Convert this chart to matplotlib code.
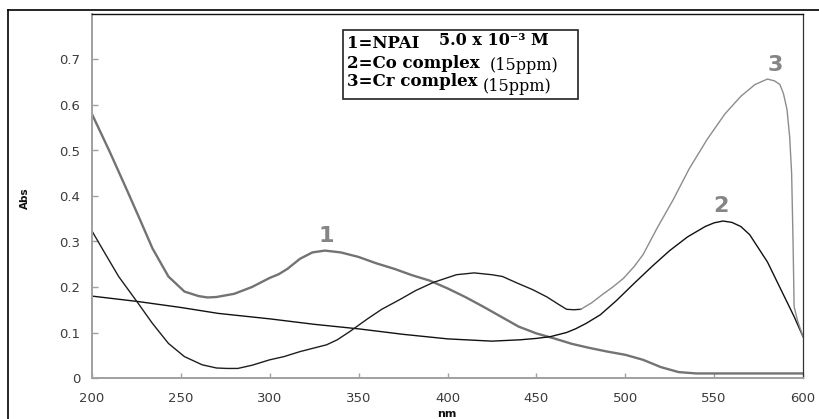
import matplotlib
matplotlib.use("Agg")
import matplotlib.pyplot as plt
from matplotlib.lines import Line2D
from matplotlib.patches import Rectangle

# absorption spectra, wavelength in nm
nm_npai = [200, 210, 220, 227, 234, 243, 252, 260, 265, 270, 280, 290, 300, 305, 310, 317,
           324, 331, 340, 350, 360, 370, 380, 390, 400, 410, 420, 430, 440, 450, 460, 470,
           480, 490, 500, 510, 520, 530, 540, 560, 580, 600]
abs_npai = [0.580, 0.497, 0.410, 0.348, 0.285, 0.223, 0.190, 0.180, 0.177, 0.178, 0.185, 0.200,
            0.220, 0.228, 0.240, 0.262, 0.276, 0.280, 0.276, 0.266, 0.252, 0.240, 0.226, 0.214,
            0.197, 0.178, 0.157, 0.135, 0.113, 0.098, 0.087, 0.075, 0.066, 0.058, 0.051, 0.040,
            0.024, 0.013, 0.010, 0.010, 0.010, 0.010]

nm_co = [200, 226, 250, 271, 300, 325, 350, 375, 400, 425, 441, 450, 458, 467, 472, 478, 486,
         495, 505, 515, 525, 535, 545, 550, 555, 560, 565, 570, 575, 580, 585, 590, 595, 600]
abs_co = [0.180, 0.168, 0.155, 0.142, 0.130, 0.118, 0.108, 0.096, 0.086, 0.081, 0.084, 0.087,
          0.091, 0.100, 0.108, 0.120, 0.139, 0.170, 0.208, 0.245, 0.280, 0.310, 0.333, 0.341,
          0.345, 0.342, 0.333, 0.315, 0.285, 0.255, 0.215, 0.175, 0.135, 0.091]

nm_cr = [200, 207, 215, 226, 234, 243, 252, 262, 270, 276, 282, 290, 300, 308, 317, 325, 332,
         338, 345, 355, 363, 373, 382, 392, 405, 415, 425, 431, 439, 448, 456, 462, 467, 471,
         475, 481, 487, 493, 499, 505, 510, 518, 527, 536, 546, 556, 565, 573, 580, 584, 587,
         589, 591, 592.5, 593.6, 594.4, 595, 597, 600]
abs_cr = [0.323, 0.276, 0.223, 0.164, 0.120, 0.076, 0.047, 0.029, 0.022, 0.021, 0.021, 0.028,
          0.040, 0.047, 0.058, 0.066, 0.073, 0.084, 0.102, 0.130, 0.151, 0.172, 0.192, 0.210,
          0.227, 0.231, 0.227, 0.223, 0.209, 0.194, 0.178, 0.163, 0.151, 0.150, 0.151, 0.165,
          0.183, 0.200, 0.219, 0.245, 0.271, 0.330, 0.392, 0.460, 0.524, 0.580, 0.619, 0.645,
          0.657, 0.653, 0.645, 0.625, 0.590, 0.530, 0.450, 0.300, 0.157, 0.125, 0.091]

x_ticks = [200, 250, 300, 350, 400, 450, 500, 550, 600]
y_ticks = [0, 0.1, 0.2, 0.3, 0.4, 0.5, 0.6, 0.7]
y_tick_labels = ["0", "0.1", "0.2", "0.3", "0.4", "0.5", "0.6", "0.7"]

# peak numbers: (label, nm, abs)
peak_labels = [("1", 331.6, 0.313), ("2", 553.9, 0.377), ("3", 584.3, 0.687)]

W, H = 820, 419


def px(x, y):
    """pixel position (from top-left) -> figure fraction"""
    return x / W, 1 - y / H


plt.rcParams["font.family"] = ["DejaVu Sans"]
fig = plt.figure(figsize=(W / 100, H / 100), dpi=100)
ax = fig.add_axes([92 / W, 41 / H, 711 / W, 364 / H])

ax.plot(nm_npai, abs_npai, color="#737373", lw=1.7, solid_capstyle="butt")
ax.plot(nm_co, abs_co, color="#111111", lw=1.0)

# Cr complex trace: darker on the UV side, lighter past the dip
split = nm_cr.index(475)
ax.plot(nm_cr[:split + 1], abs_cr[:split + 1], color="#1e1e1e", lw=1.0)
ax.plot(nm_cr[split:], abs_cr[split:], color="#8c8c8c", lw=1.0)

for txt, xv, yv in peak_labels:
    ax.text(xv, yv, txt, ha="center", va="center", fontsize=16, fontweight="bold",
            color="#858585")

ax.set_xlim(200, 600)
ax.set_ylim(0, 0.80)
ax.set_xticks(x_ticks)
ax.set_xticklabels([str(v) for v in x_ticks])
ax.set_yticks(y_ticks)
ax.set_yticklabels(y_tick_labels)
ax.tick_params(axis="y", direction="in", length=4.5, width=1, color="#a0a0a0",
               pad=8.5, labelsize=9.5, labelcolor="#3c3c3c")
ax.tick_params(axis="x", direction="in", length=3.6, width=1, color="#a0a0a0",
               pad=10, labelsize=9.5, labelcolor="#3c3c3c")

for side in ("left", "bottom"):
    ax.spines[side].set_color("#a0a0a0")
    ax.spines[side].set_linewidth(1.4)
ax.spines["top"].set_color("#111111")
ax.spines["top"].set_linewidth(1.0)
ax.spines["right"].set_color("#333333")
ax.spines["right"].set_linewidth(0.9)

fig.text(*px(25, 198), "Abs", rotation=90, ha="center", va="center",
         fontsize=7.5, fontweight="bold", color="#111111")
fig.text(*px(447, 418.5), "nm", ha="center", va="bottom", fontsize=8,
         fontweight="bold", color="#111111")

# outer frame around the whole graphic
fig.add_artist(Line2D([8 / W, 8 / W], [0, 1 - 10 / H], color="black", lw=1.2))
fig.add_artist(Line2D([8 / W, 1], [1 - 10 / H, 1 - 10 / H], color="black", lw=1.2))

# key box
x0, y0 = px(343, 99)
fig.add_artist(Rectangle((x0, y0), 235 / W, 69 / H, transform=fig.transFigure,
                         facecolor="white", edgecolor="#222222", lw=1.2))
serif = ["DejaVu Serif"]
fig.text(*px(347, 48), "1=NPAI", family=serif, fontweight="bold", fontsize=12,
         va="baseline", color="black")
fig.text(*px(439, 45), "5.0 x 10\u207b\u00b3 M", family=serif, fontweight="bold",
         fontsize=11.5, va="baseline", color="black")
fig.text(*px(347, 68), "2=Co complex", family=serif, fontweight="bold", fontsize=12,
         va="baseline", color="black")
fig.text(*px(490, 70), "(15ppm)", family=serif, fontsize=11.5, va="baseline",
         color="black")
fig.text(*px(347, 86), "3=Cr complex", family=serif, fontweight="bold", fontsize=12,
         va="baseline", color="black")
fig.text(*px(483, 91), "(15ppm)", family=serif, fontsize=11.5, va="baseline",
         color="black")

fig.savefig("out.png", dpi=100)
